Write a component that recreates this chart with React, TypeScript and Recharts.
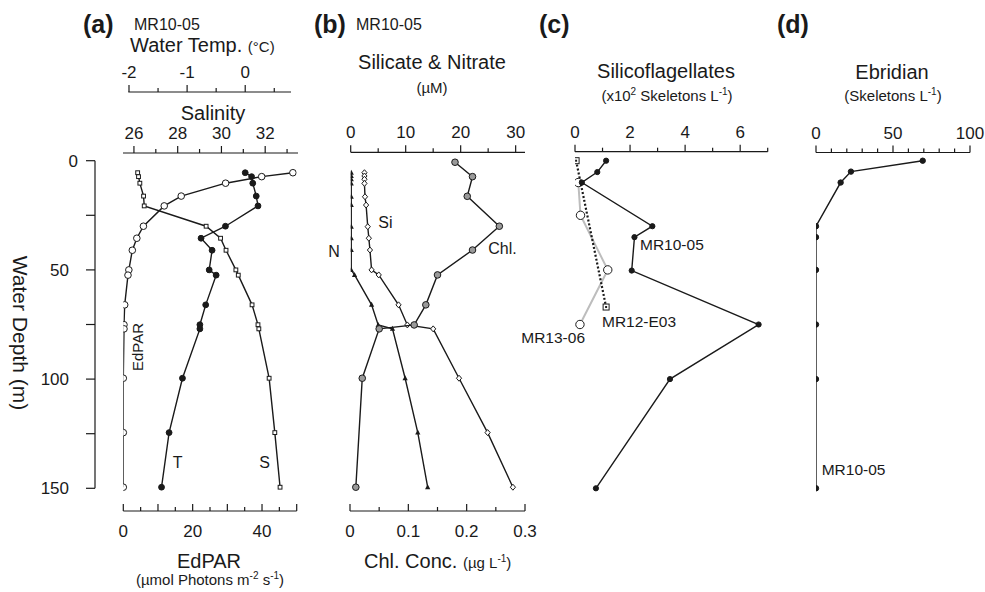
import React from 'react';
import { ScatterChart, Scatter, XAxis, YAxis } from 'recharts';

const W = 985;
const H = 592;
const FONT = '"Liberation Sans", Arial, Helvetica, sans-serif';
const INK = '#1a1a1a';

// depth scale shared by all panels: 0 m sits at y=160.7, 2.184 px per metre
const Y0 = 160.7;
const PX_PER_M = 2.184;
const depthAt = (py: number) => (py - Y0) / PX_PER_M;

// ---- (a) MR10-05 CTD cast ----
const ctdDepth = [5.5, 7.3, 10.3, 16.2, 20.7, 30, 35.5, 41, 50, 52.4, 66, 75.1, 77, 99.6, 124.5, 149.5];
const edpar = [48.9, 39.9, 29.5, 16.7, 11.8, 5.8, 3.9, 2.6, 1.6, 1.35, 0.4, 0.2, 0.2, 0, 0, 0];
const temperature = [0.0, 0.11, 0.13, 0.19, 0.22, -0.34, -0.76, -0.57, -0.62, -0.5, -0.68, -0.78, -0.78, -1.08, -1.31, -1.44];
const salinity = [26.17, 26.21, 26.27, 26.44, 26.47, 29.3, 29.96, 30.21, 30.66, 30.77, 31.4, 31.67, 31.71, 32.18, 32.44, 32.68];

// ---- (b) nutrients (uM) and chlorophyll (ug/L) ----
const nutDepth = [5.5, 7, 8.5, 10.4, 16.5, 20.3, 30.2, 35.5, 40.9, 50, 52.3, 66, 75.2, 77, 99.6, 124.5, 149.5];
const silicate = [2.5, 2.5, 2.5, 2.5, 2.6, 2.8, 3.1, 3.3, 3.5, 3.8, 5.1, 8.7, 10.3, 15.0, 19.7, 24.9, 29.5];
const nitrate = [0.1, 0.1, 0.1, 0.1, 0.1, 0.1, 0.1, 0.1, 0.1, 0.1, 0.7, 3.8, 5.0, 7.6, 9.9, 12.2, 14.0];
const chlDepth = [0.7, 7.3, 16.3, 30, 40.9, 52.3, 66, 75.2, 77, 99.6, 149.5];
const chl = [0.18, 0.21, 0.201, 0.256, 0.21, 0.15, 0.13, 0.11, 0.05, 0.021, 0.01];

// ---- (c) silicoflagellates (x10^2 skeletons/L) ----
const siliDepth1005 = [0, 5.2, 10, 30, 35, 50.3, 75, 100, 150];
const sili1005 = [1.13, 0.81, 0.25, 2.81, 2.16, 2.06, 6.67, 3.45, 0.76];
const siliDepthE03 = [0, 67];
const siliE03 = [0.04, 1.13];
const siliDepth1306 = [10, 25, 50, 75];
const sili1306 = [0.12, 0.2, 1.19, 0.18];

// ---- (d) ebridians (skeletons/L) ----
const ebriDepth = [0, 5, 10, 30, 35, 50, 75, 100, 150];
const ebridian = [69.3, 22.7, 16, 0, 0, 0, 0, 0, 0];

// axis ticks
const depthTicks = [0, 25, 50, 75, 100, 125, 150];
const tempTicks = [-2, -1.5, -1, -0.5, 0, 0.5];
const salTicks = [26, 27, 28, 29, 30, 31, 32, 33];
const parTicks = [0, 5, 10, 15, 20, 25, 30, 35, 40, 45, 50];
const nutTicks = [0, 5, 10, 15, 20, 25, 30];
const chlTicks = [0, 0.05, 0.1, 0.15, 0.2, 0.25, 0.3];
const siliTicks = [0, 1, 2, 3, 4, 5, 6, 7];
const ebriTicks = [0, 10, 20, 30, 40, 50, 60, 70, 80, 90, 100];

const pts = (depths: number[], vals: number[]) => depths.map((d, i) => ({ d, v: vals[i] }));
const isMult = (v: number, step: number) => Math.abs(v / step - Math.round(v / step)) < 1e-6;

// marker shapes
const dot = (r: number, fill: string) => (p: any) => (
    <circle cx={p.cx} cy={p.cy} r={r} fill={fill} stroke={INK} strokeWidth={1} />
);
const square = (s: number) => (p: any) => (
    <rect x={p.cx - s / 2} y={p.cy - s / 2} width={s} height={s} fill="#fff" stroke={INK} strokeWidth={1} />
);
const dottedSquare = (p: any) => (
    <g>
        <rect x={p.cx - 3} y={p.cy - 3} width={6} height={6} fill="#fff" stroke={INK} strokeWidth={1} />
        <rect x={p.cx - 1} y={p.cy - 1} width={2} height={2} fill={INK} />
    </g>
);
const triangle = (p: any) => (
    <polygon points={`${p.cx},${p.cy - 3} ${p.cx - 2.6},${p.cy + 2} ${p.cx + 2.6},${p.cy + 2}`} fill={INK} />
);
const diamond = (p: any) => (
    <polygon points={`${p.cx},${p.cy - 3} ${p.cx + 2.6},${p.cy} ${p.cx},${p.cy + 3} ${p.cx - 2.6},${p.cy}`} fill="#fff" stroke={INK} strokeWidth={1} />
);

const solid = { stroke: INK, strokeWidth: 1.4 };

function axisTick(side: 'top' | 'bottom', major: number, label: number) {
    return (p: any) => {
        const v = p.payload.value;
        const len = isMult(v, major) ? 7 : 4;
        return (
            <g>
                <line x1={p.x} x2={p.x} y1={p.y} y2={p.y - len} stroke={INK} strokeWidth={1.2} />
                {isMult(v, label) && (
                    <text x={p.x} y={side === 'top' ? p.y - 14 : p.y + 26} textAnchor="middle"
                        fontSize={17} fontFamily={FONT} fill={INK}>{v}</text>
                )}
            </g>
        );
    };
}

const depthTick = (p: any) => {
    const v = p.payload.value;
    return (
        <g>
            <line x1={p.x} x2={p.x - 9} y1={p.y} y2={p.y} stroke={INK} strokeWidth={1.2} />
            {isMult(v, 50) && (
                <text x={p.x - (v === 0 ? 17 : 26)} y={p.y + 6} textAnchor="end" fontSize={17} fontFamily={FONT} fill={INK}>{v}</text>
            )}
        </g>
    );
};

type Series = { data: { d: number; v: number }[]; shape: any; line: any };
type PanelOpts = {
    side: 'top' | 'bottom';
    axisY: number;
    x0: number;
    x1: number;
    domain: [number, number];
    ticks: number[];
    major: number;
    label: number;
    series: Series[];
};

// one overlaid chart per value axis; they all share the same depth scale
function profile(key: string, o: PanelOpts) {
    const AX = 30;
    const top = o.side === 'top' ? o.axisY : 100;
    const bottom = o.side === 'top' ? 520 : o.axisY;
    const margin = {
        left: o.x0,
        right: W - o.x1,
        top: o.side === 'top' ? top - AX : top,
        bottom: o.side === 'top' ? H - bottom : H - bottom - AX,
    };
    return (
        <div key={key} style={{ position: 'absolute', left: 0, top: 0 }}>
            <ScatterChart width={W} height={H} margin={margin}>
                <XAxis type="number" dataKey="v" orientation={o.side} height={AX} domain={o.domain} ticks={o.ticks}
                    interval={0} allowDataOverflow tickSize={0} tickMargin={0} tickLine={false}
                    axisLine={{ stroke: INK, strokeWidth: 1.2 }} tick={axisTick(o.side, o.major, o.label)} />
                <YAxis type="number" dataKey="d" domain={[depthAt(top), depthAt(bottom)]} reversed hide allowDataOverflow />
                {o.series.map((s, i) => (
                    <Scatter key={i} data={s.data} shape={s.shape} line={s.line} lineType="joint" isAnimationActive={false} />
                ))}
            </ScatterChart>
        </div>
    );
}

const txt = { fontFamily: FONT, fill: INK };

export default function App() {
    return (
        <div style={{ position: 'absolute', left: 0, top: 0, width: W, height: H, background: '#fff' }}>
            {/* depth axis */}
            <div style={{ position: 'absolute', left: 0, top: 0 }}>
                <ScatterChart width={W} height={H} margin={{ left: 35, right: W - 300, top: Y0, bottom: H - (Y0 + 150 * PX_PER_M) }}>
                    <XAxis type="number" dataKey="v" hide domain={[0, 1]} />
                    <YAxis type="number" dataKey="d" width={60} domain={[0, 150]} ticks={depthTicks} reversed allowDataOverflow
                        interval={0} tickSize={0} tickMargin={0} tickLine={false}
                        axisLine={{ stroke: INK, strokeWidth: 1.2 }} tick={depthTick} />
                    <Scatter data={[]} isAnimationActive={false} />
                </ScatterChart>
            </div>

            {profile('par', {
                side: 'bottom', axisY: 511, x0: 123.3, x1: 296.7, domain: [0, 50], ticks: parTicks, major: 10, label: 20,
                series: [{ data: pts(ctdDepth, edpar), shape: dot(3.3, '#fff'), line: solid }],
            })}
            {profile('sal', {
                side: 'top', axisY: 153, x0: 123, x1: 298, domain: [25.5, 33.5], ticks: salTicks, major: 2, label: 2,
                series: [{ data: pts(ctdDepth, salinity), shape: square(3.8), line: solid }],
            })}
            {profile('temp', {
                side: 'top', axisY: 92, x0: 128.3, x1: 291, domain: [-2.012, 0.788], ticks: tempTicks, major: 1, label: 1,
                series: [{ data: pts(ctdDepth, temperature), shape: dot(2.9, INK), line: solid }],
            })}

            {profile('nut', {
                side: 'top', axisY: 152.3, x0: 350.7, x1: 525, domain: [0, 31.7], ticks: nutTicks, major: 10, label: 10,
                series: [
                    { data: pts(nutDepth, nitrate), shape: triangle, line: solid },
                    { data: pts(nutDepth, silicate), shape: diamond, line: solid },
                ],
            })}
            {profile('chl', {
                side: 'bottom', axisY: 511, x0: 350, x1: 525, domain: [0, 0.3], ticks: chlTicks, major: 0.1, label: 0.1,
                series: [{ data: pts(chlDepth, chl), shape: dot(3.3, '#9a9a9a'), line: solid }],
            })}

            {profile('sili', {
                side: 'top', axisY: 151.7, x0: 575, x1: 767.7, domain: [0, 7], ticks: siliTicks, major: 2, label: 2,
                series: [
                    { data: pts(siliDepth1306, sili1306), shape: dot(4.2, '#fff'), line: { stroke: '#bdbdbd', strokeWidth: 2 } },
                    { data: pts(siliDepthE03, siliE03), shape: dottedSquare, line: { stroke: INK, strokeWidth: 2.2, strokeDasharray: '2 2' } },
                    { data: pts(siliDepth1005, sili1005), shape: dot(2.6, INK), line: solid },
                ],
            })}

            {profile('ebri', {
                side: 'top', axisY: 152.5, x0: 816, x1: 970, domain: [0, 100], ticks: ebriTicks, major: 50, label: 50,
                series: [{ data: pts(ebriDepth, ebridian), shape: dot(2.7, INK), line: solid }],
            })}

            {/* titles and annotations */}
            <svg width={W} height={H} style={{ position: 'absolute', left: 0, top: 0, pointerEvents: 'none' }}>
                <text x={83} y={33} fontSize={25} fontWeight="bold" {...txt}>(a)</text>
                <text x={134} y={30} fontSize={16} {...txt}>MR10-05</text>
                <text x={314} y={33} fontSize={25} fontWeight="bold" {...txt}>(b)</text>
                <text x={356} y={30} fontSize={16} {...txt}>MR10-05</text>
                <text x={539} y={33} fontSize={25} fontWeight="bold" {...txt}>(c)</text>
                <text x={777} y={33} fontSize={25} fontWeight="bold" {...txt}>(d)</text>

                <text x={130} y={52} fontSize={20} {...txt}>Water Temp. <tspan fontSize={15}>(°C)</tspan></text>
                <text x={213} y={120} fontSize={20} textAnchor="middle" {...txt}>Salinity</text>
                <text x={432} y={69} fontSize={20} textAnchor="middle" {...txt}>Silicate &amp; Nitrate</text>
                <text x={432} y={93} fontSize={15} textAnchor="middle" {...txt}>(µM)</text>
                <text x={666} y={78} fontSize={20} textAnchor="middle" {...txt}>Silicoflagellates</text>
                <text x={667} y={101} fontSize={15} textAnchor="middle" {...txt}>
                    (x10<tspan dy={-6} fontSize={10}>2</tspan><tspan dy={6}> Skeletons L</tspan><tspan dy={-6} fontSize={10}>-1</tspan><tspan dy={6}>)</tspan>
                </text>
                <text x={892} y={79} fontSize={20} textAnchor="middle" {...txt}>Ebridian</text>
                <text x={893} y={101} fontSize={15} textAnchor="middle" {...txt}>
                    (Skeletons L<tspan dy={-6} fontSize={10}>-1</tspan><tspan dy={6}>)</tspan>
                </text>

                <text x={209} y={568} fontSize={20} textAnchor="middle" {...txt}>EdPAR</text>
                <text x={210} y={585} fontSize={15} textAnchor="middle" {...txt}>
                    (µmol Photons m<tspan dy={-6} fontSize={10}>-2</tspan><tspan dy={6}> s</tspan><tspan dy={-6} fontSize={10}>-1</tspan><tspan dy={6}>)</tspan>
                </text>
                <text x={364} y={568} fontSize={20} {...txt}>
                    Chl. Conc. <tspan fontSize={15}>(µg L</tspan><tspan dy={-6} fontSize={10}>-1</tspan><tspan dy={6} fontSize={15}>)</tspan>
                </text>

                <text x={20} y={333} fontSize={21} textAnchor="middle" dominantBaseline="central"
                    transform="rotate(90 20 333)" {...txt}>Water Depth (m)</text>

                <text x={137.5} y={347} fontSize={15} textAnchor="middle" dominantBaseline="central"
                    transform="rotate(-90 137.5 347)" {...txt}>EdPAR</text>
                <text x={172.7} y={468} fontSize={16} {...txt}>T</text>
                <text x={259.3} y={468} fontSize={16} {...txt}>S</text>
                <text x={378.3} y={228} fontSize={16} {...txt}>Si</text>
                <text x={328.3} y={257} fontSize={16} {...txt}>N</text>
                <text x={488.3} y={254} fontSize={16} {...txt}>Chl.</text>
                <text x={640} y={250} fontSize={15.5} {...txt}>MR10-05</text>
                <text x={602} y={327} fontSize={15.5} {...txt}>MR12-E03</text>
                <text x={585} y={343} fontSize={15.5} textAnchor="end" {...txt}>MR13-06</text>
                <text x={821.7} y={475} fontSize={15.5} {...txt}>MR10-05</text>
            </svg>
        </div>
    );
}
